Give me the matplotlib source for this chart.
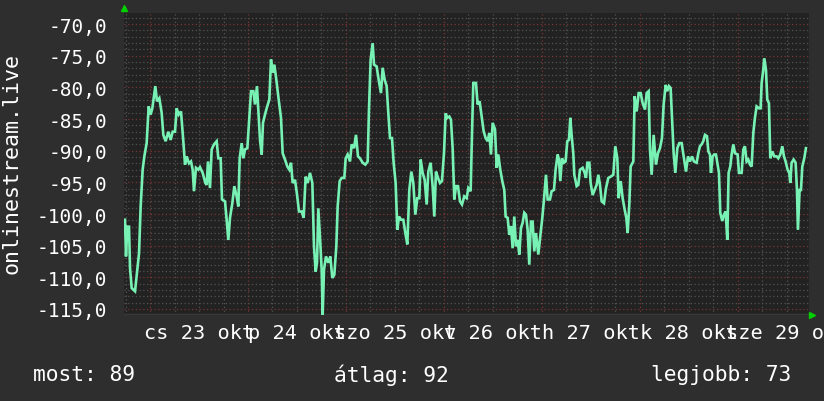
import numpy as np
import matplotlib
matplotlib.use("Agg")
import matplotlib.pyplot as plt

# ---- data: hours since 22 okt 00:00, signal values ----
t1 = [17.87, 18.12, 18.45, 18.86, 19.10, 19.51, 20.33, 20.73, 21.31, 21.71,
      22.20, 22.61, 23.18, 23.67, 24.16, 24.57, 24.98, 25.30, 25.71, 26.28,
      26.85, 27.26, 27.83, 28.49, 29.06, 29.55, 30.12, 30.53, 31.02, 31.59,
      32.16, 32.57, 32.98, 33.55, 34.04, 34.45, 34.77, 35.26, 35.84, 36.24,
      36.90, 37.55, 37.88, 38.20, 38.69, 39.10, 39.67, 40.33, 40.73, 41.30,
      41.63, 42.37, 42.77, 43.18, 43.59, 44.16, 44.65]
v1 = [-100.9, -106.7, -102, -102, -108.5, -111.7, -112.2, -109.8, -106.2, -98.8,
      -93, -90.9, -88.8, -83, -84.3, -83.3, -81.4, -79.8, -82.2, -81.7,
      -84, -87.5, -88.5, -87, -88.3, -87, -87, -83.3, -84.3, -83.8,
      -88.5, -92.2, -90.9, -92, -91.7, -93, -96.4, -92.7, -93, -92.6,
      -93.5, -95.1, -95.4, -91.7, -95.9, -89.8, -89, -88.5, -91.2, -91.2,
      -97.7, -98, -100.9, -104.1, -100.6, -98.3, -95.6]

t2 = [45.22, 45.63, 45.96, 46.45, 46.86, 47.27, 47.84, 48.25, 48.74, 49.31,
      49.71, 50.20, 50.53, 50.94, 51.35, 51.67, 52.16, 52.57, 53.23, 53.63,
      54.04, 54.45, 54.94, 55.51, 56.08, 56.49, 57.06, 57.63, 58.12, 58.53,
      58.94, 59.51, 60.00, 60.49, 61.14, 61.63, 62.12, 62.61, 63.18, 63.76,
      64.16, 64.57, 64.90, 65.22, 65.71, 66.04, 66.29, 66.61, 67.10, 67.67,
      68.16, 68.65, 69.14, 69.63, 69.96, 70.45, 70.94, 71.59, 71.92, 72.41]
v2 = [-97.2, -98.8, -91.2, -88.8, -91.2, -89.8, -89.6, -85.6, -80.6, -80.6,
      -82.7, -79.8, -83.5, -88.3, -90.6, -85.6, -84.3, -83.3, -81.9, -75.6,
      -77.7, -76.4, -78.8, -81.9, -84.8, -90.4, -91.4, -92.5, -93, -91.9,
      -95.1, -94.6, -96.9, -99.6, -99.6, -100.6, -94.1, -95.1, -93.5, -95.1,
      -105.1, -109.1, -107.7, -99.1, -104.6, -108.8, -115.9, -108.8, -106.7, -107.7,
      -106.7, -110.1, -109.6, -105.1, -98.8, -94.8, -94.3, -94.3, -91.2, -90.6]

t3 = [72.98, 73.39, 73.96, 74.45, 74.94, 75.43, 76.08, 76.74, 77.31, 77.63,
      78.04, 78.53, 78.86, 79.51, 80.00, 80.57, 80.98, 81.47, 81.96, 82.37,
      82.78, 83.27, 83.67, 84.16, 84.57, 84.98, 85.47, 86.04, 86.53, 87.02,
      87.51, 88.00, 88.49, 88.98, 89.47, 89.96, 90.29, 90.78, 91.27, 91.76,
      92.16, 92.73, 93.22, 93.63, 94.04, 94.53, 95.02, 95.51, 96.00, 96.41,
      96.82, 97.31, 97.71, 98.12, 98.53, 98.94, 99.43, 99.92, 100.41, 100.98]
v3 = [-91.7, -89, -89.6, -87.5, -90.9, -91.2, -91.9, -92.2, -91.7, -83.5,
      -75.6, -73, -76.4, -76.7, -78.8, -80.9, -76.9, -78.8, -79.8, -84.1,
      -88, -88, -91.9, -95.1, -102.5, -100.4, -100.9, -100.9, -103, -104.8,
      -96.2, -93.3, -95.1, -100.1, -97.5, -97.5, -91.4, -93.5, -94.6, -98.5,
      -93.3, -91.9, -95.6, -100.4, -93.3, -94.3, -95.1, -94.8, -90.4, -84.1,
      -84.8, -84.6, -85.1, -89.6, -97.7, -95.6, -95.6, -98, -98.5, -97.2]

t4 = [101.55, 101.96, 102.53, 102.77, 103.18, 103.83, 104.24, 104.73, 105.22, 105.71,
      106.20, 106.69, 107.10, 107.51, 107.92, 108.49, 108.90, 109.30, 109.79, 110.28,
      110.77, 111.10, 111.59, 112.00, 112.41, 112.81, 113.22, 113.63, 114.04, 114.45,
      114.85, 115.26, 115.67, 116.08, 116.49, 116.89, 117.30, 117.71, 118.12, 118.53,
      119.10, 119.59, 120.08, 120.49, 120.98, 121.38, 121.96, 122.36, 122.94, 123.34,
      123.83, 124.16, 124.49, 124.89, 125.38, 125.79, 126.20, 126.61, 126.94, 127.26,
      127.67, 127.92, 128.49, 128.89]
v4 = [-97.5, -95.9, -96.4, -89.8, -79.3, -79.3, -82.7, -82.2, -84.6, -86.9,
      -88, -88.5, -87.2, -90.6, -85.6, -86.6, -92.7, -90.6, -93, -94.8,
      -96.2, -100.4, -100.6, -103.3, -101.9, -105.4, -100.4, -105.1, -104.1, -106.4,
      -102.2, -101.4, -99.8, -100.1, -102.5, -108, -101.2, -101.2, -105.9, -103,
      -106.4, -103.5, -100.6, -97.7, -93.8, -97.7, -97.7, -96.4, -96.2, -93,
      -90.6, -91.4, -94.8, -91.2, -91.9, -91.7, -88.5, -88.3, -84.8, -87.5,
      -90.4, -93.8, -95.6, -95.4]

t5 = [129.31, 129.96, 130.45, 130.78, 131.11, 131.60, 131.92, 132.41, 132.90, 133.39,
      133.80, 134.21, 134.62, 135.19, 135.68, 136.25, 136.82, 137.47, 137.96, 138.45,
      138.78, 139.27, 139.76, 140.25, 140.66, 140.98, 141.39, 141.72, 142.37, 142.70,
      143.19, 143.68, 144.17, 144.66, 145.23, 145.64, 146.13, 146.45, 146.86, 147.35,
      147.92, 148.41, 148.90, 149.39, 149.80, 150.29, 150.70, 151.10, 151.51, 151.84,
      152.25, 152.66, 153.15, 153.64, 154.21, 154.78, 155.27, 155.76, 156.25, 156.74,
      157.23]
v5 = [-93, -92.7, -93.5, -94.3, -91.9, -91.9, -95.1, -97, -96.2, -95.4,
      -93.8, -95.4, -98, -98.3, -95.9, -94.3, -94.1, -93.8, -89.3, -91.2,
      -97.5, -94.8, -97.5, -99.3, -100.6, -103, -98.5, -92.5, -91.7, -81.4,
      -83.8, -80.9, -80.9, -82.5, -83.5, -80.9, -80.6, -89.8, -93.8, -87.5,
      -92.2, -90.4, -89.6, -88, -82.7, -79.6, -80.6, -79.8, -80.1, -84.8,
      -90.4, -93.5, -89.6, -88.8, -88.8, -91.2, -93.3, -90.9, -91.7, -90.9,
      -91.7]

t6 = [157.88, 158.29, 158.69, 159.10, 159.51, 159.92, 160.41, 160.74, 161.14, 161.39,
      161.80, 162.20, 162.61, 163.02, 163.35, 163.67, 164.16, 164.57, 164.98, 165.39,
      165.71, 166.12, 166.45, 166.86, 167.27, 167.92, 168.25, 168.90, 169.31, 169.71,
      170.12, 170.53, 170.94, 171.35, 171.76, 172.16, 172.57, 173.14, 173.55, 173.80,
      174.20, 174.45, 174.86, 175.18, 175.59, 175.92, 176.41, 176.90, 177.47, 177.88,
      178.37, 178.86, 179.27, 179.67, 180.16, 180.57, 180.82, 181.14, 181.63, 182.12,
      182.45, 182.69, 183.10, 183.43, 183.76, 184.24, 184.65]
v6 = [-91.9, -90.4, -89.3, -89, -88.5, -87.5, -87.7, -90.1, -90.6, -93.5,
      -90.9, -90.6, -90.6, -92.2, -93.5, -99.8, -101.1, -100.1, -99.6, -104.1,
      -93.5, -92.5, -90.6, -89, -90.4, -90.6, -93.5, -93.5, -89.8, -89.3,
      -91.7, -91.4, -92.2, -92.5, -87.2, -84.8, -83, -83.3, -83.3, -79.3,
      -77.2, -75.4, -77.2, -81.9, -82.5, -91.2, -90.1, -90.9, -90.9, -91.2,
      -90.6, -89.3, -90.9, -91.7, -93, -93.5, -95.1, -91.9, -91.4, -91.9,
      -96.2, -102.5, -96.2, -96.2, -92.5, -91.2, -89.6]

day_label_hours = [36, 60, 84, 108, 132, 156, 180]
day_labels = ["cs 23 okt", "p 24 okt", "szo 25 okt", "v 26 okt",
              "h 27 okt", "k 28 okt", "sze 29 okt"]
y_label = "onlinestream.live"
legend_items = ["most: 89", "átlag: 92", "legjobb: 73"]

times = np.array(t1 + t2 + t3 + t4 + t5 + t6)
values = np.array(v1 + v2 + v3 + v4 + v5 + v6)

# ---- styling ----
plt.rcParams['font.family'] = ['DejaVu Sans Mono']
FS = 14
W, H = 824, 402
fig = plt.figure(figsize=(W / 100, H / 100), dpi=100)
fig.patch.set_facecolor('#2e2e2e')
L, R, T, B = 124, 809, 14, 316
ax = fig.add_axes([L / W, 1 - B / H, (R - L) / W, (B - T) / H])
ax.set_facecolor('#222222')

x0, x1 = 17.63, 185.4
y0, y1 = -115.95, -68.25
ax.set_xlim(x0, x1)
ax.set_ylim(y0, y1)

dot = (0, (1, 2))
for h in np.arange(18, 186, 6):
    col = '#7a3434' if h % 24 == 0 else '#525252'
    ax.axvline(h, color=col, lw=0.9, ls=dot, zorder=1)
for yv in range(-115, -68):
    col = '#7a3434' if yv % 5 == 0 else '#525252'
    ax.axhline(yv, color=col, lw=0.9, ls=dot, zorder=1)

ax.plot(times, values, color='#78f2b4', lw=1.9, zorder=3, solid_joinstyle='miter')

for s in ax.spines.values():
    s.set_visible(False)
ax.axhline(y0, color='#383838', lw=2.5, zorder=2)

yt = list(range(-115, -69, 5))
ax.set_yticks(yt)
ax.set_yticklabels([f"{v:.1f}".replace('.', ',') for v in yt])
ax.set_xticks(day_label_hours)
ax.set_xticklabels(day_labels)
ax.tick_params(axis='y', length=0, pad=12, labelsize=FS, labelcolor='white')
ax.tick_params(axis='x', length=0, pad=6, labelsize=14.6, labelcolor='white')

# axis arrows
ax.plot([0], [1.016], marker='^', color='#00d000', ms=5, transform=ax.transAxes,
        clip_on=False, zorder=5)
ax.plot([1.005], [0.0], marker='>', color='#00d000', ms=5, transform=ax.transAxes,
        clip_on=False, zorder=5)

fig.text(12 / W, 1 - 164 / H, y_label, rotation=90, ha='center', va='center',
         color='white', fontsize=15.6)

ly = 1 - 375 / H
LFS = 15.3
fig.text(33 / W, ly, legend_items[0], ha='left', va='center', color='white', fontsize=LFS)
fig.text(334 / W, ly, legend_items[1], ha='left', va='center', color='white', fontsize=LFS)
fig.text(791 / W, ly, legend_items[2], ha='right', va='center', color='white', fontsize=LFS)

fig.savefig("out.png", dpi=100, facecolor=fig.get_facecolor())
